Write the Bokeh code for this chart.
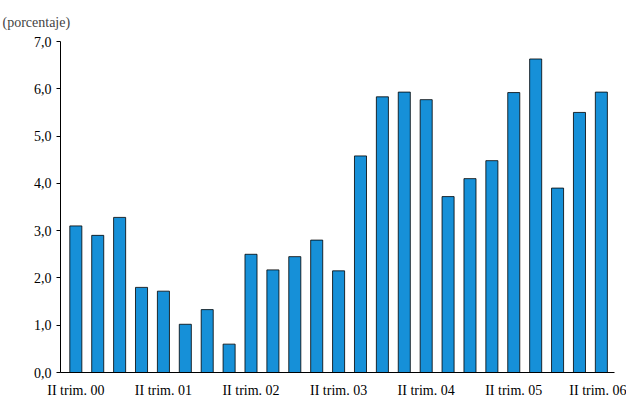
from bokeh.plotting import figure
from bokeh.models import FixedTicker
from bokeh.embed import file_html
from bokeh.resources import INLINE

values = [3.1, 2.9, 3.28, 1.8, 1.72, 1.02, 1.33, 0.6, 2.5, 2.17, 2.45, 2.8, 2.15,
          4.58, 5.83, 5.93, 5.77, 3.72, 4.1, 4.48, 5.92, 6.63, 3.9, 5.5, 5.93]
tick_labels = ["II trim. 00", "II trim. 01", "II trim. 02", "II trim. 03",
               "II trim. 04", "II trim. 05", "II trim. 06"]
y_ticks = [0, 1, 2, 3, 4, 5, 6, 7]

x = list(range(len(values)))
font = "Liberation Serif"

p = figure(width=626, height=400, output_backend="svg", toolbar_location=None,
           x_range=(-0.7, 24.6), y_range=(0, 7.0))
p.vbar(x=x, top=values, width=0.55, fill_color="#1690d8", line_color="black", line_width=0.8)

p.title.text = "(porcentaje)"
p.title.text_font = font
p.title.text_font_size = "14px"
p.title.text_font_style = "normal"
p.title.offset = -58
p.title.standoff = 24

p.min_border_top = 28
p.min_border_left = 60
p.min_border_right = 12
p.min_border_bottom = 0
p.outline_line_color = None
p.grid.visible = False

p.yaxis.ticker = FixedTicker(ticks=y_ticks)
p.yaxis.major_label_overrides = {t: f"{t:.1f}".replace(".", ",") for t in y_ticks}
p.xaxis.ticker = FixedTicker(ticks=[0, 4, 8, 12, 16, 20, 24])
p.xaxis.major_label_overrides = {i * 4: s for i, s in enumerate(tick_labels)}
for ax in (p.xaxis, p.yaxis):
    ax.major_label_text_font = font
    ax.major_label_text_font_size = "14px"
    ax.major_label_text_color = "black"
    ax.axis_line_color = "black"
    ax.major_tick_line_color = "black"
    ax.minor_tick_line_color = None
p.xaxis.major_tick_line_color = None
p.xaxis.major_label_standoff = 4
p.yaxis.major_tick_in = 0
p.yaxis.major_tick_out = 4

open("out.html", "w").write(file_html(p, INLINE))
